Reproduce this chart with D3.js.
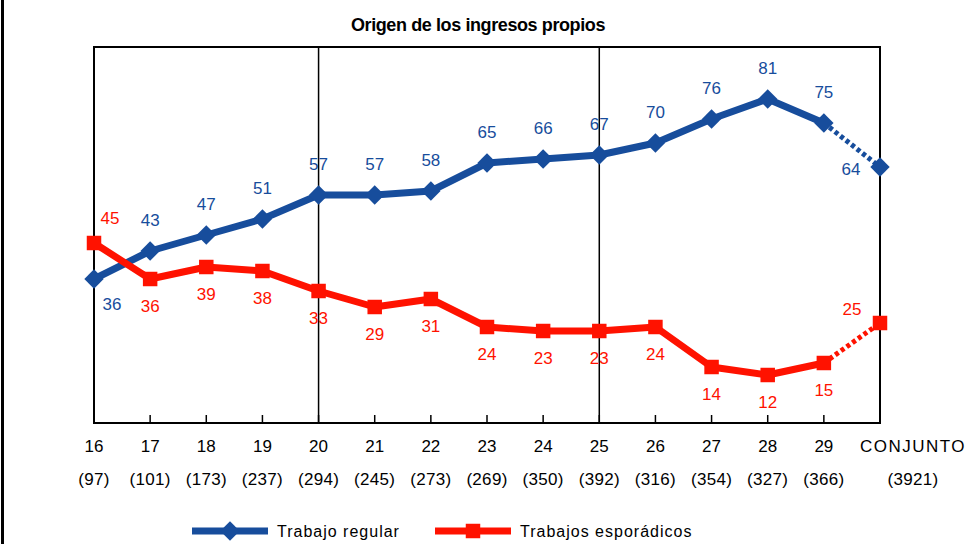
<!DOCTYPE html>
<html>
<head>
<meta charset="utf-8">
<script src="https://cdn.jsdelivr.net/npm/d3@7"></script>
<style>
  body { margin: 0; background: white; }
  text { font-family: "Liberation Sans", Arial, sans-serif; }
</style>
</head>
<body>
<div id="chart"></div>
<script>
// data
var ages = ["16", "17", "18", "19", "20", "21", "22", "23", "24", "25", "26", "27", "28", "29", "CONJUNTO"];
var counts = ["(97)", "(101)", "(173)", "(237)", "(294)", "(245)", "(273)", "(269)", "(350)", "(392)", "(316)", "(354)", "(327)", "(366)", "(3921)"];
var regular = [36, 43, 47, 51, 57, 57, 58, 65, 66, 67, 70, 76, 81, 75, 64];
var esporadicos = [45, 36, 39, 38, 33, 29, 31, 24, 23, 23, 24, 14, 12, 15, 25];
var dividers = ["20", "25"];

var W = 975, H = 544;
var margin = {top: 47, right: 95, bottom: 121, left: 94},
    width = W - margin.left - margin.right,
    height = H - margin.top - margin.bottom;

var blue = "#174d9c", red = "#ff1200";

var root = d3.select("#chart").append("svg")
    .attr("width", W)
    .attr("height", H);

// left page border
root.append("line")
    .attr("x1", 2.5).attr("x2", 2.5).attr("y1", 0).attr("y2", H)
    .style("stroke", "black").style("stroke-width", 3);

root.append("text")
    .attr("x", 478).attr("y", 31)
    .attr("text-anchor", "middle")
    .style("font-size", "18px")
    .style("font-weight", "bold")
    .style("letter-spacing", "-0.4px")
    .text("Origen de los ingresos propios");

var svg = root.append("g")
    .attr("transform", "translate(" + margin.left + "," + margin.top + ")");

var x = d3.scalePoint().domain(ages).range([0, width]);
var y = d3.scaleLinear().domain([0, 94]).range([height, 0]);

// frame
svg.append("rect")
    .attr("width", width).attr("height", height)
    .style("fill", "none").style("stroke", "black").style("stroke-width", 2);

svg.selectAll(".divider")
    .data(dividers).enter().append("line")
    .attr("x1", function(d) { return x(d); }).attr("x2", function(d) { return x(d); })
    .attr("y1", 0).attr("y2", height)
    .style("stroke", "black").style("stroke-width", 1.5);

// ticks along bottom
svg.selectAll(".tick")
    .data(ages).enter().append("line")
    .attr("x1", function(d) { return x(d); }).attr("x2", function(d) { return x(d); })
    .attr("y1", height).attr("y2", height - 8)
    .style("stroke", "black").style("stroke-width", 1.5);

// last category label sits to the right of its point
function labelX(i) { return x(ages[i]) + (i === ages.length - 1 ? 33 : 0); }

svg.selectAll(".age")
    .data(ages).enter().append("text")
    .attr("x", function(d, i) { return labelX(i); })
    .attr("y", height + 29)
    .attr("text-anchor", "middle")
    .style("font-size", "17px")
    .style("letter-spacing", function(d, i) { return i === ages.length - 1 ? "1.5px" : "0px"; })
    .text(function(d) { return d; });

svg.selectAll(".count")
    .data(counts).enter().append("text")
    .attr("x", function(d, i) { return labelX(i); })
    .attr("y", height + 62)
    .attr("text-anchor", "middle")
    .style("font-size", "17px")
    .style("letter-spacing", "0.3px")
    .text(function(d) { return d; });

function drawSeries(values, color, shape, size, labelPos) {
  var pts = values.map(function(v, i) { return {age: ages[i], v: v, i: i}; });
  var line = d3.line().x(function(d) { return x(d.age); }).y(function(d) { return y(d.v); });
  var n = pts.length;
  svg.append("path")
      .datum(pts.slice(0, n - 1))
      .attr("d", line)
      .style("fill", "none").style("stroke", color).style("stroke-width", 7)
      .style("stroke-linejoin", "round");
  svg.append("path")
      .datum(pts.slice(n - 2))
      .attr("d", line)
      .style("fill", "none").style("stroke", color).style("stroke-width", 5)
      .style("stroke-dasharray", "4,3");
  svg.selectAll(".m" + shape.name)
      .data(pts).enter().append("path")
      .attr("transform", function(d) { return "translate(" + x(d.age) + "," + y(d.v) + ")"; })
      .attr("d", d3.symbol().type(shape.type).size(size))
      .style("fill", color);
  svg.selectAll(".l" + shape.name)
      .data(pts).enter().append("text")
      .attr("x", function(d) { return x(d.age) + labelPos(d).dx; })
      .attr("y", function(d) { return y(d.v) + labelPos(d).dy; })
      .attr("text-anchor", "middle")
      .style("font-size", "17px")
      .style("fill", color)
      .text(function(d) { return d.v; });
}

var diamond = {name: "d", type: d3.symbolDiamond2};
var square = {name: "s", type: d3.symbolSquare};

drawSeries(regular, blue, diamond, 240, function(d) {
  if (d.i === 0) return {dx: 18, dy: 31};
  if (d.i === ages.length - 1) return {dx: -29, dy: 8};
  return {dx: 0, dy: -25};
});
drawSeries(esporadicos, red, square, 210, function(d) {
  if (d.i === 0) return {dx: 16, dy: -19};
  if (d.i === ages.length - 1) return {dx: -28, dy: -8};
  return {dx: 0, dy: 33};
});

// legend
var legend = root.append("g").attr("transform", "translate(0,531)");
var items = [
  {label: "Trabajo regular", color: blue, shape: diamond, size: 240, x: 192},
  {label: "Trabajos esporádicos", color: red, shape: square, size: 210, x: 435}
];
items.forEach(function(it) {
  legend.append("line")
      .attr("x1", it.x).attr("x2", it.x + 76).attr("y1", 0).attr("y2", 0)
      .style("stroke", it.color).style("stroke-width", 7);
  legend.append("path")
      .attr("transform", "translate(" + (it.x + 38) + ",0)")
      .attr("d", d3.symbol().type(it.shape.type).size(it.size))
      .style("fill", it.color);
  legend.append("text")
      .attr("x", it.x + 85).attr("y", 6)
      .style("font-size", "16px")
      .style("letter-spacing", "1px")
      .text(it.label);
});
</script>
</body>
</html>
